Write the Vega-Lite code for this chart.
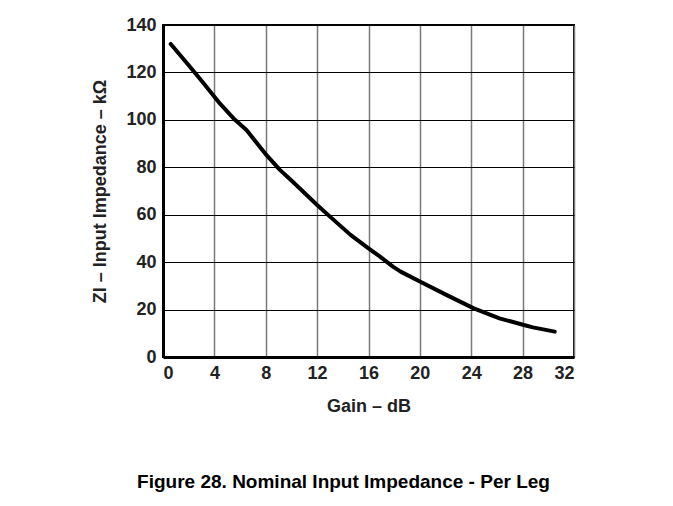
{
  "$schema": "https://vega.github.io/schema/vega-lite/v6.json",
  "width": 411,
  "height": 332,
  "autosize": "none",
  "padding": {"left": 163, "top": 25, "right": 99, "bottom": 149},
  "background": "white",
  "title": {
    "text": "Figure 28. Nominal Input Impedance - Per Leg",
    "orient": "bottom",
    "anchor": "middle",
    "frame": "group",
    "dx": -25,
    "offset": 58,
    "font": "Liberation Sans",
    "fontSize": 19,
    "fontWeight": "bold",
    "color": "black"
  },
  "data": {
    "values": [
      {"gain": 0.6, "z": 132},
      {"gain": 2, "z": 123},
      {"gain": 3, "z": 116.5},
      {"gain": 4.44, "z": 106.8},
      {"gain": 5.6, "z": 100},
      {"gain": 6.5, "z": 95.7},
      {"gain": 7.94, "z": 85.9},
      {"gain": 9.1, "z": 78.9},
      {"gain": 10, "z": 74.4},
      {"gain": 12, "z": 64.1},
      {"gain": 13, "z": 59.2},
      {"gain": 14.6, "z": 51.5},
      {"gain": 16, "z": 45.8},
      {"gain": 16.9, "z": 42.3},
      {"gain": 17.9, "z": 38.1},
      {"gain": 18.5, "z": 36},
      {"gain": 20, "z": 31.8},
      {"gain": 22.1, "z": 26.1},
      {"gain": 24.2, "z": 20.5},
      {"gain": 26.2, "z": 16.3},
      {"gain": 28.1, "z": 13.5},
      {"gain": 28.8, "z": 12.5},
      {"gain": 30.5, "z": 10.7}
    ]
  },
  "mark": {"type": "line", "color": "black", "strokeWidth": 4, "strokeJoin": "round", "strokeCap": "round"},
  "encoding": {
    "x": {
      "field": "gain",
      "type": "quantitative",
      "scale": {"domain": [0, 32], "nice": false},
      "axis": {
        "title": "Gain – dB",
        "values": [0, 4, 8, 12, 16, 20, 24, 28, 32],
        "gridColor": "#7a7a7a",
        "gridWidth": 1.5,
        "titlePadding": 15
      }
    },
    "y": {
      "field": "z",
      "type": "quantitative",
      "scale": {"domain": [0, 140], "nice": false},
      "axis": {
        "title": "ZI – Input Impedance – kΩ",
        "values": [0, 20, 40, 60, 80, 100, 120, 140],
        "gridColor": "black",
        "gridWidth": 1,
        "titlePadding": 16
      }
    }
  },
  "config": {
    "font": "Liberation Sans",
    "view": {"stroke": "black", "strokeWidth": 2},
    "axis": {
      "grid": true,
      "domainColor": "black",
      "domainWidth": 3,
      "ticks": false,
      "labelFont": "Liberation Sans",
      "labelFontSize": 18,
      "labelFontWeight": "bold",
      "labelColor": "#222",
      "labelPadding": 7,
      "titleFont": "Liberation Sans",
      "titleFontSize": 18,
      "titleFontWeight": "bold",
      "titleColor": "#222"
    }
  }
}
